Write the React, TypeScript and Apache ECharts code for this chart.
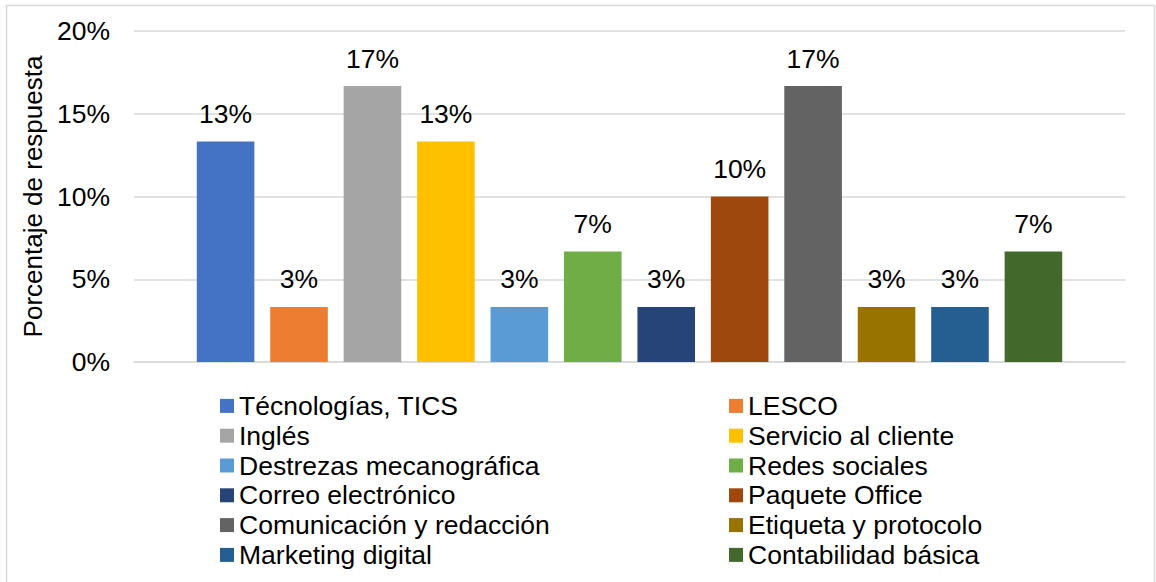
import React, { useEffect, useRef } from "react";
import * as echarts from "echarts";

const categories = [
  "Técnologías, TICS",
  "LESCO",
  "Inglés",
  "Servicio al cliente",
  "Destrezas mecanográfica",
  "Redes sociales",
  "Correo electrónico",
  "Paquete Office",
  "Comunicación y redacción",
  "Etiqueta y protocolo",
  "Marketing digital",
  "Contabilidad básica",
];
const values = [
  0.1333, 0.0333, 0.1667, 0.1333, 0.0333, 0.0667, 0.0333, 0.1, 0.1667, 0.0333,
  0.0333, 0.0667,
];
const colors = [
  "#4472C4",
  "#ED7D31",
  "#A5A5A5",
  "#FFC000",
  "#5B9BD5",
  "#70AD47",
  "#264478",
  "#9E480E",
  "#636363",
  "#997300",
  "#255E91",
  "#43682B",
];
const yTicks = ["0%", "5%", "10%", "15%", "20%"];
const axisTitle = "Porcentaje de respuesta";

export default function App() {
  const ref = useRef<HTMLDivElement>(null);
  useEffect(() => {
    document.body.style.margin = "0";
    if (!ref.current) return;
    const chart = echarts.init(ref.current, null, { renderer: "svg" });
    const font = "Arial, 'Liberation Sans', sans-serif";
    const fs = 26.5;
    const legendBase = {
      orient: "vertical" as const,
      top: 391,
      padding: 0,
      itemWidth: 14,
      itemHeight: 14,
      itemGap: 0,
      icon: "rect",
      selectedMode: false,
      textStyle: {
        fontFamily: font,
        fontSize: fs,
        color: "#000",
        lineHeight: 29.8,
      },
    };
    chart.setOption({
      animation: false,
      color: colors,
      graphic: [
        {
          type: "rect",
          shape: { x: 6.5, y: 5.5, width: 1148, height: 578 },
          style: { fill: "none", stroke: "#d9d9d9", lineWidth: 1.5 },
          silent: true,
        },
      ],
      legend: [
        { ...legendBase, left: 220, data: categories.filter((_, i) => i % 2 === 0) },
        { ...legendBase, left: 729, data: categories.filter((_, i) => i % 2 === 1) },
      ],
      grid: { left: 134, right: 31, top: 31, bottom: 220, containLabel: false },
      xAxis: {
        type: "category",
        data: [""],
        axisLine: { show: true, lineStyle: { color: "#d9d9d9", width: 1.5 } },
        axisTick: { show: false },
        axisLabel: { show: false },
      },
      yAxis: {
        type: "value",
        min: 0,
        max: 0.2,
        interval: 0.05,
        name: axisTitle,
        nameLocation: "middle",
        nameGap: 88,
        nameTextStyle: { fontFamily: font, fontSize: 26, color: "#000" },
        axisLine: { show: false },
        axisTick: { show: false },
        splitLine: { lineStyle: { color: "#d9d9d9", width: 1.5 } },
        axisLabel: {
          margin: 24,
          fontFamily: font,
          fontSize: fs,
          color: "#000",
          formatter: (v: number) => yTicks[Math.round(v / 0.05)] ?? "",
        },
      },
      series: categories.map((name, i) => ({
        name,
        type: "bar",
        data: [values[i]],
        barWidth: 57.6,
        barGap: "27.5%",
        itemStyle: { color: colors[i] },
        label: {
          show: true,
          position: "top",
          distance: 14,
          fontFamily: font,
          fontSize: fs,
          color: "#000",
          formatter: (p: any) => Math.round(p.value * 100) + "%",
        },
      })),
    });
    return () => chart.dispose();
  }, []);
  return <div ref={ref} style={{ width: 1156, height: 582 }} />;
}
